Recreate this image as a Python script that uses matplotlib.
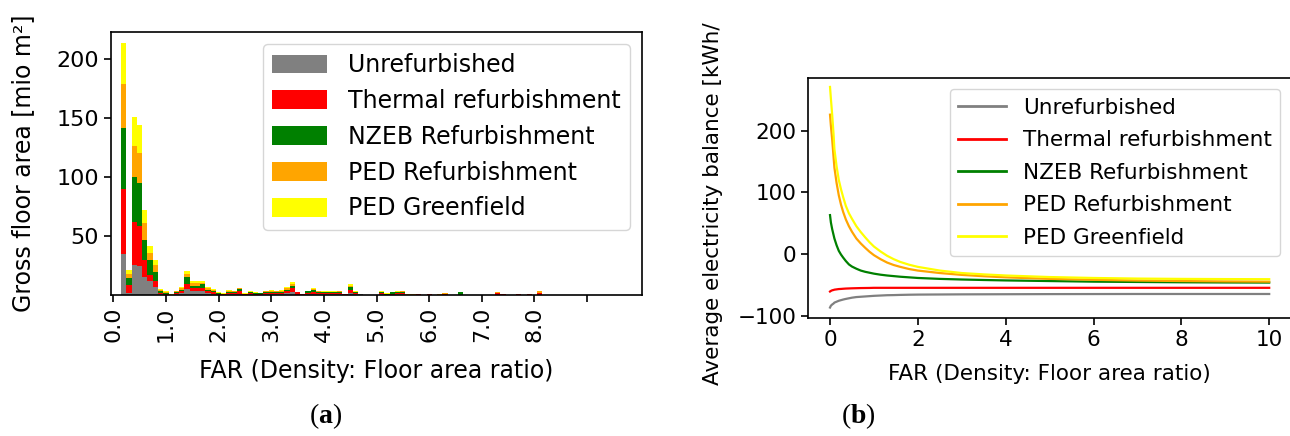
import matplotlib
matplotlib.use('agg')
import matplotlib.pyplot as plt
import numpy as np

plt.rcParams['font.family'] = 'DejaVu Sans'
plt.rcParams['mathtext.fontset'] = 'custom'
plt.rcParams['mathtext.rm'] = 'Liberation Serif'
plt.rcParams['mathtext.bf'] = 'Liberation Serif:bold'

labels = ['Unrefurbished', 'Thermal refurbishment', 'NZEB Refurbishment',
          'PED Refurbishment', 'PED Greenfield']
colors = ['grey', 'red', 'green', 'orange', 'yellow']

# (a) histogram: FAR bins 0.2 .. 8.1 (step 0.1), cumulative top of each layer [mio m2]
far_bins = np.round(np.arange(0.2, 8.15, 0.1), 1)
top_unref = [35, 2, 25.5, 25, 16, 12, 7.5, 1.5, 0.8, 0.3,
             1, 2, 5.7, 3.5, 3.5, 3.5, 2, 1.5, 0.8, 0.5,
             1.3, 1.2, 1.5, 0.5, 1, 0.8, 0.7, 1.2, 1.3, 1.2,
             1.3, 2, 3, 0.8, 0.4, 1, 1.5, 1, 1, 1,
             1, 1, 0.5, 2.5, 1, 1, 0.8, 0, 0, 1,
             0.5, 0.7, 1, 1, 0.3, 0.3, 0.4, 0, 0.4, 0,
             0.3, 0.5, 0, 0, 0.5, 0, 0, 0, 0, 0,
             0, 0.5, 0.3, 0, 0, 0.3, 0, 0.3, 0, 0.5]
top_thermal = [90, 9, 62, 58.5, 30, 17, 12.5, 2.5, 1.2, 0.5,
               2, 3.5, 10, 6, 6, 6.5, 3.5, 3, 1.5, 1,
               2.5, 2.2, 3.5, 1, 2, 1.5, 1.3, 2.2, 2.5, 2.2,
               2.5, 3.5, 6, 2.8, 1.4, 2, 3, 2, 1.8, 1.8,
               1.8, 2.5, 1, 5, 2.5, 1, 0.8, 0, 0, 1.8,
               0.8, 1.2, 1.8, 2.5, 0.6, 0.6, 1.4, 0, 1.4, 0,
               0.5, 1, 0, 0, 0.8, 0, 0, 0, 0, 0,
               0, 2.3, 1, 0, 0, 1.4, 0, 1.4, 0, 2.5]
top_nzeb = [142, 15, 100.5, 95.5, 47, 30, 20, 3.8, 2.2, 0.7,
            3, 5, 15.6, 8.5, 8.5, 9.5, 5, 4, 2, 1.4,
            3.4, 3, 5.5, 1.4, 2.7, 2, 1.8, 3, 3.4, 3,
            3.4, 5, 8.5, 2.8, 1.4, 3.5, 4.5, 3.2, 2.8, 2.8,
            2.8, 3.2, 1.3, 7.5, 3, 1, 0.8, 0, 0, 2.8,
            1.3, 2.8, 2.8, 2.8, 0.6, 0.6, 1.4, 0, 1.4, 0,
            0.5, 1, 0, 0, 2.8, 0, 0, 0, 0, 0,
            0, 2.3, 1, 0, 0, 1.4, 0, 1.4, 0, 2.5]
top_ped_ref = [179, 18.5, 126.5, 120.5, 61, 36, 25.5, 4.5, 2.8, 0.8,
               3.5, 6, 18.5, 10.5, 10.5, 11, 6, 5, 2.4, 1.7,
               4.1, 3.6, 6, 1.7, 3.2, 2.4, 2.2, 3.6, 4.1, 3.6,
               4.1, 6, 10, 2.8, 1.4, 3.8, 5.3, 3.7, 3.2, 3.2,
               3.2, 3.5, 1.5, 8.5, 3.4, 1, 0.8, 0, 0, 3.2,
               1.6, 2.8, 3.2, 3.7, 1, 1, 1.4, 0, 1.4, 0,
               1, 2, 0, 0, 2.8, 0, 0, 0, 0, 0,
               0, 3.4, 1, 0, 0, 1.4, 0, 1.4, 0, 4]
top_ped_green = [214, 22, 151, 144, 72, 42, 30, 5.4, 3.5, 1,
                 4, 7, 21, 12, 12, 12.7, 7, 5.7, 2.8, 2,
                 4.8, 4.2, 6.5, 2, 3.7, 2.8, 2.5, 4.2, 4.8, 4.2,
                 4.8, 7, 11.3, 2.8, 1.4, 4.2, 6.2, 4.2, 3.7, 3.7,
                 3.7, 3.7, 1.7, 9.9, 3.7, 1, 0.8, 0, 0, 3.7,
                 2, 2.8, 3.7, 3.7, 1, 1, 1.4, 0, 1.4, 0,
                 1, 2, 0, 0, 2.8, 0, 0, 0, 0, 0,
                 0, 3.4, 1, 0, 0, 1.4, 0, 1.4, 0, 4]
far_ticks = [0, 1, 2, 3, 4, 5, 6, 7, 8, 9]
far_ticklabels = ['0.0', '1.0', '2.0', '3.0', '4.0', '5.0', '6.0', '7.0', '8.0', '']

# (b) average electricity balance vs FAR
far_line = [0, 0.02, 0.05, 0.08, 0.1, 0.15, 0.2, 0.25, 0.3, 0.36, 0.43, 0.5, 0.6, 0.7,
            0.8, 0.9, 1.0, 1.15, 1.3, 1.45, 1.6, 1.8, 2.0, 2.5, 3, 3.5, 4, 5, 6, 7, 8, 9, 10]
bal_unref = [-87, -84, -82, -80.5, -79, -77.5, -76, -75, -74, -73, -72, -71, -70, -69.5,
             -69, -68.5, -68, -67.5, -67, -66.8, -66.5, -66.2, -66, -65.8, -65.6, -65.5,
             -65.4, -65.2, -65.1, -65, -65, -65, -65]
bal_thermal = [-61, -60, -59, -58.5, -58, -57.5, -57, -56.8, -56.5, -56.2, -56, -55.8,
               -55.6, -55.4, -55.3, -55.2, -55, -55, -55, -55, -55, -55, -55, -55, -55,
               -55, -55, -55, -55, -55, -55, -55, -55]
bal_nzeb = [63, 51, 40, 31, 25, 14, 5, -1, -6, -11.5, -17, -20.5, -24, -27, -29, -30.5,
            -32, -33.7, -35, -36, -37, -38, -39, -40.5, -41.5, -42.3, -43, -44, -45,
            -45.5, -46, -46.3, -46.5]
bal_ped_ref = [226, 208, 185, 158, 140, 115, 95, 80, 68, 56, 45, 36, 25, 17, 10, 3.5,
               -2, -8.5, -14, -18, -21, -24.5, -27, -31, -34, -36.2, -38, -40.5, -42,
               -43.2, -44, -44.6, -45]
bal_ped_green = [271, 252, 225, 195, 170, 142, 120, 105, 92, 78, 66, 57, 45, 35.5, 27,
                 19, 12, 4, -3, -8.5, -13, -17.5, -21, -27, -31, -33.2, -35, -37.5, -39,
                 -40, -40.5, -40.8, -41]

fig = plt.figure(figsize=(12.9, 4.36), dpi=100)

# ---- (a)
ax1 = fig.add_axes([0.086, 0.3234, 0.4116, 0.6032])
tops = [top_unref, top_thermal, top_nzeb, top_ped_ref, top_ped_green]
handles = [None] * 5
for i in range(4, -1, -1):  # draw back to front, cumulative heights
    handles[i] = ax1.bar(far_bins, tops[i], width=0.1, color=colors[i], label=labels[i])
ax1.set_xlim(-0.044, 10.04)
ax1.set_ylim(0.5, 223)
ax1.set_yticks([50, 100, 150, 200])
ax1.set_xticks(far_ticks)
ax1.set_xticklabels(far_ticklabels, rotation=90)
ax1.tick_params(labelsize=16, width=1.2, length=5)
ax1.set_xlabel('FAR (Density: Floor area ratio)', fontsize=17, labelpad=12)
ax1.set_ylabel('Gross floor area [mio m²]', fontsize=17)
ax1.yaxis.set_label_coords(-0.143, 0.5)
ax1.legend(handles, labels, loc='upper right', fontsize=17, handlelength=2.3,
           handleheight=0.85, handletextpad=0.9, labelspacing=0.5)
for s in ax1.spines.values():
    s.set_linewidth(1.2)

# ---- (b)
ax2 = fig.add_axes([0.6264, 0.2706, 0.3745, 0.5498])
series = [bal_unref, bal_thermal, bal_nzeb, bal_ped_ref, bal_ped_green]
for i in range(5):
    ax2.plot(far_line, series[i], color=colors[i], lw=1.6, label=labels[i])
ax2.set_xlim(-0.5, 10.5)
ax2.set_ylim(-104, 285)
ax2.set_yticks([-100, 0, 100, 200])
ax2.set_xticks([0, 2, 4, 6, 8, 10])
ax2.tick_params(labelsize=15.5, width=1.2, length=5)
ax2.set_xlabel('FAR (Density: Floor area ratio)', fontsize=15.5, labelpad=10)
ax2.set_ylabel('Average electricity balance [kWh/', fontsize=15.5)
ax2.yaxis.set_label_coords(-0.176, 0.475)
leg = ax2.legend(loc='upper right', fontsize=15.5, handlelength=2.2,
                 handletextpad=0.8, labelspacing=0.58)
for ln in leg.get_lines():
    ln.set_linewidth(2)
for s in ax2.spines.values():
    s.set_linewidth(1.2)

fig.text(0.252, 0.03, r'($\mathbf{a}$)', fontsize=20, family='Liberation Serif', ha='center')
fig.text(0.665, 0.03, r'($\mathbf{b}$)', fontsize=20, family='Liberation Serif', ha='center')

fig.savefig('out.png', dpi=100)
